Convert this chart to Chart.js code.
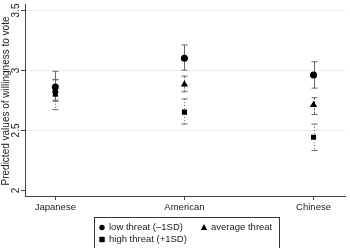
<!DOCTYPE html>
<html>
<head>
<meta charset="utf-8">
<script src="https://cdn.jsdelivr.net/npm/chart.js@4"></script>
<style>
  html, body { margin: 0; padding: 0; background: #fff; }
  #wrap { width: 350px; height: 248px; position: relative; }
</style>
</head>
<body>
<div id="wrap"><canvas id="grafico"></canvas></div>
<script>
// --- Dados ---
const categorias = ['Japanese', 'American', 'Chinese'];
const yTicks = [2, 2.5, 3, 3.5];

const lowMean = [2.86, 3.10, 2.96];
const lowLo   = [2.74, 3.00, 2.85];
const lowHi   = [2.99, 3.21, 3.07];

const avgMean = [2.83, 2.88, 2.71];
const avgLo   = [2.75, 2.82, 2.63];
const avgHi   = [2.92, 2.95, 2.77];

const highMean = [2.80, 2.65, 2.44];
const highLo   = [2.67, 2.55, 2.33];
const highHi   = [2.92, 2.76, 2.55];

const FONT = 'Liberation Sans, Arial, Helvetica, sans-serif';

function pontos(means, lo, hi) {
  return means.map((m, i) => ({ x: i + 1, y: m, lo: lo[i], hi: hi[i] }));
}

const series = [
  { label: 'low threat (\u20131SD)', data: pontos(lowMean, lowLo, lowHi), style: 'circle', radius: 3.5, dash: [] },
  { label: 'average threat', data: pontos(avgMean, avgLo, avgHi), style: 'triangle', radius: 4.2, dash: [2, 1.5] },
  { label: 'high threat (+1SD)', data: pontos(highMean, highLo, highHi), style: 'rect', radius: 3.6, dash: [1, 2] }
];

// desenha barras de erro, eixo y (ticks rotacionados), título e legenda
const extras = {
  id: 'extras',
  beforeDatasetsDraw(chart) {
    const ctx = chart.ctx;
    const xs = chart.scales.x, ys = chart.scales.y;
    ctx.save();
    series.forEach((s) => {
      ctx.strokeStyle = '#666';
      ctx.lineWidth = 1;
      ctx.setLineDash(s.dash);
      s.data.forEach(p => {
        const px = Math.round(xs.getPixelForValue(p.x)) + 0.5;
        const y1 = ys.getPixelForValue(p.hi), y2 = ys.getPixelForValue(p.lo);
        ctx.beginPath();
        ctx.moveTo(px, y1); ctx.lineTo(px, y2);
        ctx.stroke();
        ctx.setLineDash([]);
        ctx.beginPath();
        ctx.moveTo(px - 3, y1); ctx.lineTo(px + 3, y1);
        ctx.moveTo(px - 3, y2); ctx.lineTo(px + 3, y2);
        ctx.stroke();
        ctx.setLineDash(s.dash);
      });
    });
    ctx.restore();
  },
  afterDraw(chart) {
    const ctx = chart.ctx;
    const ys = chart.scales.y;
    const left = chart.chartArea.left;
    ctx.save();
    // ticks do eixo y
    ctx.strokeStyle = '#444';
    ctx.lineWidth = 1;
    ctx.fillStyle = '#222';
    ctx.font = '10px ' + FONT;
    ctx.textAlign = 'center';
    ctx.textBaseline = 'middle';
    yTicks.forEach(t => {
      const py = Math.round(ys.getPixelForValue(t)) + 0.5;
      ctx.beginPath();
      ctx.moveTo(left - 4, py); ctx.lineTo(left, py);
      ctx.stroke();
      ctx.save();
      ctx.translate(16.5, py);
      ctx.rotate(-Math.PI / 2);
      ctx.fillText(String(t), 0, 0);
      ctx.restore();
    });
    // título do eixo y
    ctx.save();
    ctx.translate(6.5, 101);
    ctx.rotate(-Math.PI / 2);
    ctx.font = '10px ' + FONT;
    ctx.fillText('Predicted values of willingness to vote', 0, 0);
    ctx.restore();

    // legenda com moldura
    const bx = 94.5, by = 217.5, bw = 185, bh = 34;
    ctx.strokeStyle = '#333';
    ctx.strokeRect(bx, by, bw, bh);
    const itens = [
      { s: series[0], x: 102, y: 227.5 },
      { s: series[1], x: 204, y: 227.5 },
      { s: series[2], x: 102, y: 239.5 }
    ];
    ctx.textAlign = 'left';
    ctx.font = '9.5px ' + FONT;
    itens.forEach(it => {
      ctx.fillStyle = '#000';
      desenhaMarcador(ctx, it.s.style, it.x, it.y, it.s.style === 'triangle' ? 3.2 : 2.7);
      ctx.fillStyle = '#222';
      ctx.fillText(it.s.label, it.x + 7, it.y);
    });
    ctx.restore();
  }
};

function desenhaMarcador(ctx, estilo, x, y, r) {
  ctx.beginPath();
  if (estilo === 'circle') {
    ctx.arc(x, y, r, 0, Math.PI * 2);
  } else if (estilo === 'rect') {
    ctx.rect(x - r, y - r, 2 * r, 2 * r);
  } else {
    ctx.moveTo(x, y - r * 1.1);
    ctx.lineTo(x + r, y + r * 0.8);
    ctx.lineTo(x - r, y + r * 0.8);
    ctx.closePath();
  }
  ctx.fill();
}

new Chart(document.getElementById('grafico'), {
  type: 'scatter',
  data: {
    datasets: series.map(s => ({
      label: s.label,
      data: s.data,
      pointStyle: s.style,
      pointRadius: s.radius,
      pointHoverRadius: s.radius,
      backgroundColor: '#000',
      borderColor: '#000',
      borderWidth: 0
    }))
  },
  options: {
    responsive: true,
    maintainAspectRatio: false,
    animation: false,
    events: [],
    layout: { padding: 0 },
    plugins: {
      legend: { display: false },
      tooltip: { enabled: false }
    },
    scales: {
      x: {
        type: 'linear',
        min: 0.765,
        max: 3.25,
        afterBuildTicks: s => { s.ticks = categorias.map((c, i) => ({ value: i + 1 })); },
        afterFit: s => { s.height = 52; },
        grid: { drawOnChartArea: false, drawTicks: true, tickLength: 4, color: '#444' },
        border: { color: '#444', width: 1 },
        ticks: {
          color: '#222',
          font: { family: FONT, size: 9.5 },
          padding: 2,
          maxRotation: 0,
          callback: v => categorias[v - 1] || ''
        }
      },
      y: {
        min: 1.95,
        max: 3.55,
        afterBuildTicks: s => { s.ticks = yTicks.map(v => ({ value: v })); },
        afterFit: s => { s.width = 25; },
        grid: {
          drawTicks: false,
          color: ctx => (ctx.tick && ctx.tick.value === 2) ? 'rgba(0,0,0,0)' : '#e6f0f1'
        },
        border: { color: '#444', width: 1 },
        ticks: { display: false }
      }
    }
  },
  plugins: [extras]
});
</script>
</body>
</html>
